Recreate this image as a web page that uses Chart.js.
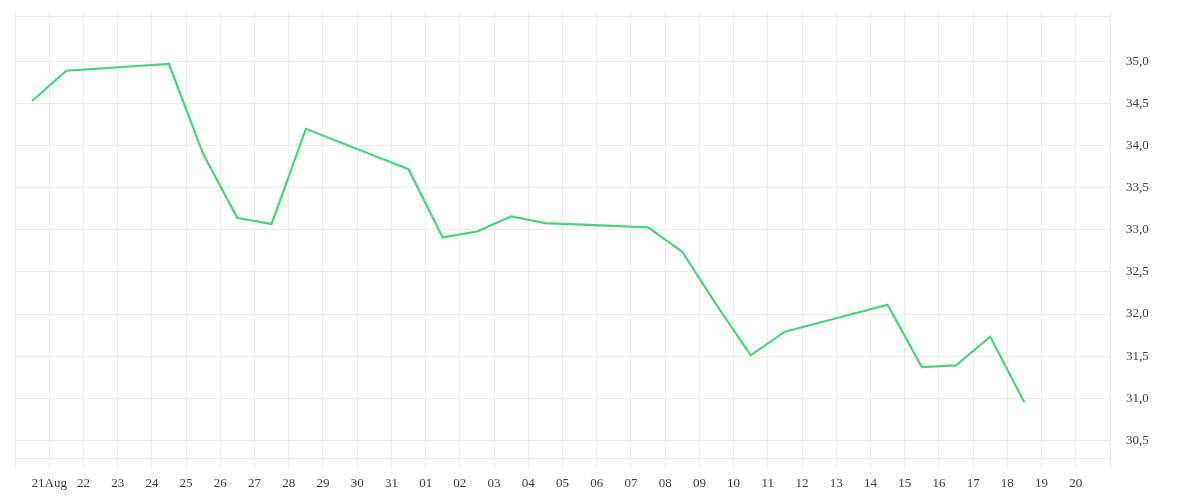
<!DOCTYPE html>
<html>
<head>
<meta charset="utf-8">
<script src="https://cdn.jsdelivr.net/npm/chart.js@4/dist/chart.umd.min.js"></script>
<style>
  html, body { margin: 0; padding: 0; background: #fff; }
  #wrap { width: 1200px; height: 500px; }
</style>
</head>
<body>
<div id="wrap"><canvas id="priceChart" width="1200" height="500"></canvas></div>
<script>
// Data (points sit at midday of each trading day)
const axisStart = '2025-08-20T00:00Z';
const dates = [
    '2025-08-20T12:00Z', '2025-08-21T12:00Z', '2025-08-24T12:00Z', '2025-08-25T12:00Z',
    '2025-08-26T12:00Z', '2025-08-27T12:00Z', '2025-08-28T12:00Z', '2025-08-31T12:00Z',
    '2025-09-01T12:00Z', '2025-09-02T12:00Z', '2025-09-03T12:00Z', '2025-09-04T12:00Z',
    '2025-09-07T12:00Z', '2025-09-08T12:00Z', '2025-09-09T12:00Z', '2025-09-10T12:00Z',
    '2025-09-11T12:00Z', '2025-09-14T12:00Z', '2025-09-15T12:00Z', '2025-09-16T12:00Z',
    '2025-09-17T12:00Z', '2025-09-18T12:00Z'
];
const prices = [
    34.53, 34.89, 34.97, 33.90, 33.14, 33.07, 34.20, 33.72,
    32.91, 32.98, 33.16, 33.08, 33.03, 32.74, 32.11, 31.51,
    31.79, 32.11, 31.37, 31.39, 31.73, 30.95
];

// One tick per day, Aug 20 .. Sep 21
const xTickLabels = [
    '', '21Aug', '22', '23', '24', '25', '26', '27', '28', '29', '30', '31',
    '01', '02', '03', '04', '05', '06', '07', '08', '09', '10',
    '11', '12', '13', '14', '15', '16', '17', '18', '19', '20', ''
];
const yTickValues = [30.5, 31.0, 31.5, 32.0, 32.5, 33.0, 33.5, 34.0, 34.5, 35.0];
const yMin = 30.29;
const yMax = 35.54;

const DAY = 86400000;
const startMs = Date.parse(axisStart);
const points = dates.map((d, i) => ({ x: (Date.parse(d) - startMs) / DAY, y: prices[i] }));

const gridColor = '#ededed';
const textColor = '#444444';

Chart.defaults.font.family = "'Liberation Serif', 'Times New Roman', serif";
Chart.defaults.font.size = 13;
Chart.defaults.color = textColor;

const ctx = document.getElementById('priceChart').getContext('2d');
new Chart(ctx, {
    type: 'line',
    data: {
        datasets: [{
            label: 'Price',
            data: points,
            borderColor: 'rgb(74, 212, 124)',
            borderWidth: 2.2,
            pointRadius: 0,
            tension: 0,
            fill: false
        }]
    },
    options: {
        responsive: false,
        animation: false,
        devicePixelRatio: 1,
        layout: {
            padding: { top: 12, left: 15, right: 0, bottom: 0 }
        },
        plugins: {
            legend: { display: false },
            tooltip: { enabled: false }
        },
        scales: {
            x: {
                type: 'linear',
                position: 'bottom',
                min: 0,
                max: xTickLabels.length - 1,
                border: { display: false },
                grid: {
                    color: gridColor,
                    tickColor: gridColor,
                    tickLength: 10
                },
                ticks: {
                    stepSize: 1,
                    autoSkip: false,
                    maxRotation: 0,
                    padding: 8,
                    callback: function(value) {
                        return xTickLabels[value] || '';
                    }
                },
                afterFit: function(scale) {
                    scale.height = 42;
                    scale.paddingLeft = 0;
                    scale.paddingRight = 0;
                }
            },
            xTop: {
                type: 'linear',
                position: 'top',
                min: 0,
                max: xTickLabels.length - 1,
                border: { display: false },
                grid: {
                    drawOnChartArea: false,
                    tickColor: gridColor,
                    tickLength: 4
                },
                ticks: {
                    stepSize: 1,
                    autoSkip: false,
                    callback: function() { return ''; }
                },
                afterFit: function(scale) {
                    scale.height = 4;
                    scale.paddingLeft = 0;
                    scale.paddingRight = 0;
                }
            },
            y: {
                type: 'linear',
                position: 'right',
                min: yMin,
                max: yMax,
                border: { display: false },
                grid: {
                    color: gridColor,
                    drawTicks: false
                },
                ticks: {
                    stepSize: 0.5,
                    autoSkip: false,
                    padding: 16,
                    callback: function(value) {
                        const hit = yTickValues.find(v => Math.abs(v - value) < 1e-6);
                        return hit === undefined ? '' : hit.toFixed(1).replace('.', ',');
                    }
                },
                afterFit: function(scale) {
                    scale.width = 90;
                    scale.paddingTop = 0;
                    scale.paddingBottom = 0;
                }
            }
        }
    }
});
</script>
</body>
</html>
